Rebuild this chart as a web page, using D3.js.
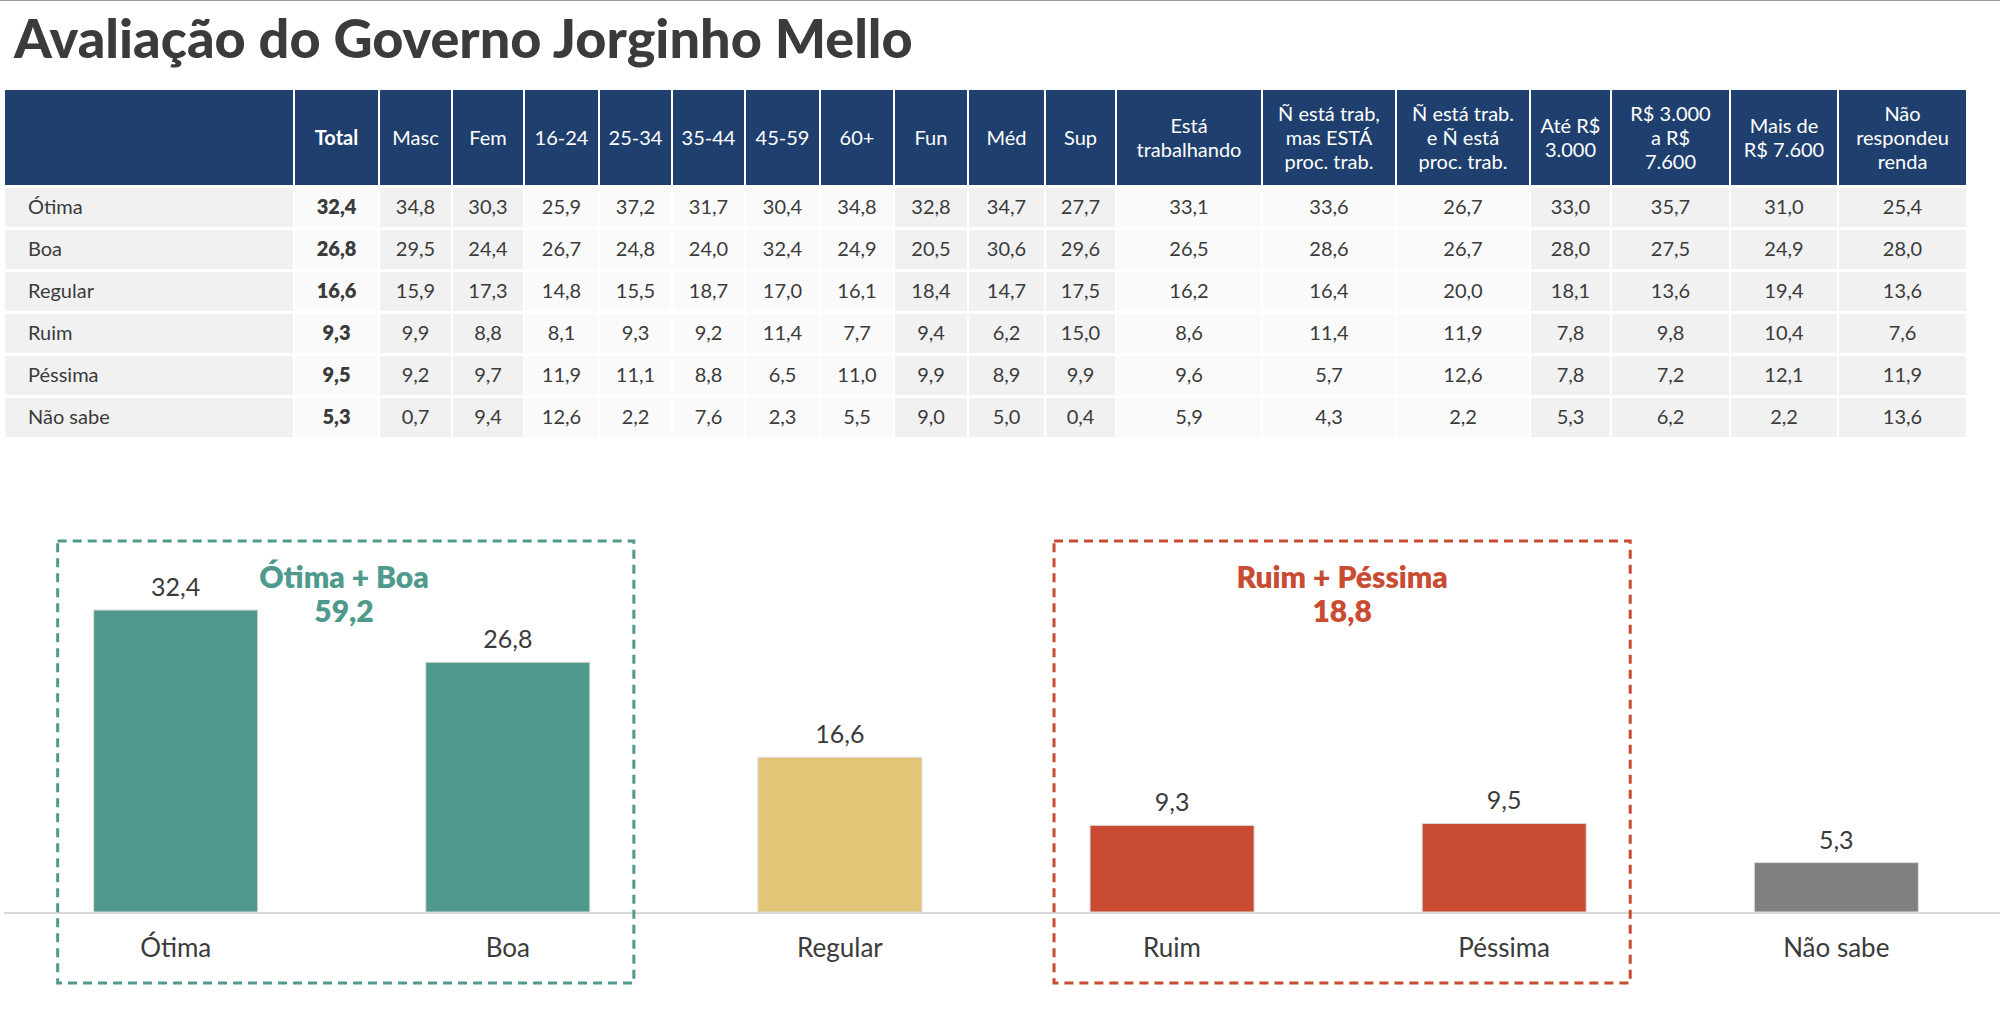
<!DOCTYPE html><html><head><meta charset="utf-8"><script src="https://cdn.jsdelivr.net/npm/d3@7"></script>
<style>body{margin:0;background:#fff}svg{font-family:Lato,"Open Sans",sans-serif}</style></head><body>
<svg id="c" width="2000" height="1021"></svg>
<script>
const columns=["Total","Masc","Fem","16-24","25-34","35-44","45-59","60+","Fun","Méd","Sup","Está|trabalhando","Ñ está trab,|mas ESTÁ|proc. trab.","Ñ está trab.|e Ñ está|proc. trab.","Até R$|3.000","R$ 3.000|a R$|7.600","Mais de|R$ 7.600","Não|respondeu|renda"];
const colEdges=[5,295,380,453,525,600,673,746,821,895,969,1046,1117,1263,1397,1531,1612,1731,1839,1968];
const colShade=[1,0,1,1,0,0,0,0,0,1,1,1,0,0,0,1,1,1,1];
const rowLabels=["Ótima","Boa","Regular","Ruim","Péssima","Não sabe"];
const tableValues=[
["32,4","34,8","30,3","25,9","37,2","31,7","30,4","34,8","32,8","34,7","27,7","33,1","33,6","26,7","33,0","35,7","31,0","25,4"],
["26,8","29,5","24,4","26,7","24,8","24,0","32,4","24,9","20,5","30,6","29,6","26,5","28,6","26,7","28,0","27,5","24,9","28,0"],
["16,6","15,9","17,3","14,8","15,5","18,7","17,0","16,1","18,4","14,7","17,5","16,2","16,4","20,0","18,1","13,6","19,4","13,6"],
["9,3","9,9","8,8","8,1","9,3","9,2","11,4","7,7","9,4","6,2","15,0","8,6","11,4","11,9","7,8","9,8","10,4","7,6"],
["9,5","9,2","9,7","11,9","11,1","8,8","6,5","11,0","9,9","8,9","9,9","9,6","5,7","12,6","7,8","7,2","12,1","11,9"],
["5,3","0,7","9,4","12,6","2,2","7,6","2,3","5,5","9,0","5,0","0,4","5,9","4,3","2,2","5,3","6,2","2,2","13,6"]];
const barCats=["Ótima","Boa","Regular","Ruim","Péssima","Não sabe"];
const barVals=[32.4,26.8,16.6,9.3,9.5,5.3];
const barColors=["#4f9a8c","#4f9a8c","#e2c577","#c84b32","#c84b32","#808080"];
const groups=[{label:"Ótima + Boa",total:"59,2",cats:["Ótima","Boa"],color:"#4f9a8c"},{label:"Ruim + Péssima",total:"18,8",cats:["Ruim","Péssima"],color:"#c84b32"}];

const svg=d3.select("#c");
svg.append("line").attr("x1",0).attr("x2",2000).attr("y1",0.5).attr("y2",0.5).attr("stroke","#999");
svg.append("text").attr("x",14).attr("y",58).attr("font-size",54).attr("font-weight",900).attr("fill","#3b3b3b").text("Avaliação do Governo Jorginho Mello");

const hTop=90,hBot=185,rowH=42;
// header
for(let i=0;i<colEdges.length-1;i++){
  const x0=colEdges[i],x1=colEdges[i+1];
  svg.append("rect").attr("x",x0).attr("y",hTop).attr("width",x1-x0-2).attr("height",hBot-hTop).attr("fill","#1f3f6e");
  if(i>0){
    const lines=columns[i-1].split("|");
    const t=svg.append("text").attr("x",(x0+x1)/2-1).attr("text-anchor","middle").attr("fill","#fff").attr("font-size",20).attr("font-weight",i==1?700:400);
    const lh=24,start=(hTop+hBot)/2-(lines.length-1)*lh/2+7;
    lines.forEach((l,k)=>t.append("tspan").attr("x",(x0+x1)/2-1).attr("y",start+k*lh).text(l));
  }
}
rowLabels.forEach((r,ri)=>{
  const y0=hBot+3+ri*rowH;
  for(let i=0;i<colEdges.length-1;i++){
    const x0=colEdges[i],x1=colEdges[i+1];
    svg.append("rect").attr("x",x0).attr("y",y0).attr("width",x1-x0-2).attr("height",rowH-3).attr("fill",colShade[i]?"#f1f1f1":"#fafafa");
    const t=svg.append("text").attr("y",y0+rowH/2+5).attr("font-size",20).attr("fill","#3b3b3b");
    if(i==0)t.attr("x",28).text(r);
    else t.attr("x",(x0+x1)/2-1).attr("text-anchor","middle").attr("font-weight",i==1?800:400).text(tableValues[ri][i-1]);
  }
});

// bars
const x=d3.scaleBand().domain(barCats).range([4,2008]).paddingInner(0.506).paddingOuter(0.27);
const y=d3.scaleLinear().domain([0,32.4]).range([912,610]);
svg.append("line").attr("x1",4).attr("x2",2000).attr("y1",913).attr("y2",913).attr("stroke","#d9d9d9").attr("stroke-width",2);
svg.selectAll(".bar").data(barVals).join("rect").attr("x",(d,i)=>x(barCats[i])).attr("width",x.bandwidth()).attr("y",d=>y(d)).attr("height",d=>912-y(d)).attr("fill",(d,i)=>barColors[i]).attr("stroke","#ddd").attr("stroke-width",1);
svg.selectAll(".vl").data(barVals).join("text").attr("x",(d,i)=>x(barCats[i])+x.bandwidth()/2).attr("y",d=>y(d)-14).attr("text-anchor","middle").attr("font-size",25).attr("fill","#3b3b3b").text(d=>d.toFixed(1).replace(".",","));
svg.selectAll(".cl").data(barCats).join("text").attr("x",d=>x(d)+x.bandwidth()/2).attr("y",957).attr("text-anchor","middle").attr("font-size",26).attr("fill","#3b3b3b").text(d=>d);
groups.forEach(g=>{
  const a=x(g.cats[0]),b=x(g.cats[1])+x.bandwidth();
  const x0=a-36,x1=b+44;
  svg.append("rect").attr("x",x0).attr("y",541).attr("width",x1-x0).attr("height",442).attr("fill","none").attr("stroke",g.color).attr("stroke-width",3).attr("stroke-dasharray","9,6");
  const cx=g.cats[0]=="Ótima"?344:(x0+x1)/2;
  svg.append("text").attr("x",cx).attr("y",588).attr("text-anchor","middle").attr("font-size",30).attr("font-weight",800).attr("fill",g.color).text(g.label);
  svg.append("text").attr("x",cx).attr("y",622).attr("text-anchor","middle").attr("font-size",30).attr("font-weight",800).attr("fill",g.color).text(g.total);
});
</script></body></html>
